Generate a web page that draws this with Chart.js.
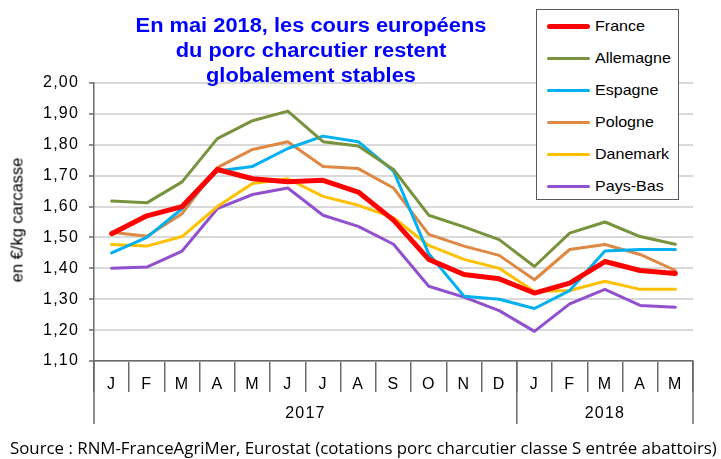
<!DOCTYPE html>
<html lang="fr">
<head>
<meta charset="utf-8">
<script src="https://cdn.jsdelivr.net/npm/chart.js@4.4.1/dist/chart.umd.min.js"></script>
<style>
  html, body { margin: 0; padding: 0; background: #fff; }
  #wrap { position: relative; width: 721px; height: 459px; overflow: hidden;
          font-family: 'Liberation Sans', Arial, sans-serif; color: #000; }
  #chart { position: absolute; left: 0; top: 0; }
  #title { position: absolute; left: 111px; top: 13px; width: 400px; text-align: center;
           color: #0000FF; font-weight: bold; font-size: 19.5px; line-height: 25px;
           transform: scaleX(1.12); transform-origin: center; white-space: nowrap; }
  #ytitle { position: absolute; left: 17px; top: 220px; font-size: 16.5px; white-space: nowrap;
            transform: translate(-50%, -50%) rotate(-90deg); }
  #legend { position: absolute; left: 536px; top: 9px; width: 143px; height: 191px;
            border: 1.5px solid #595959; background: #fff; box-sizing: border-box; }
  .lg-item { position: absolute; left: 0; width: 140px; height: 20px; }
  .lg-line { position: absolute; left: 10px; width: 43px; border-radius: 3px; }
  .lg-text { position: absolute; left: 58px; top: 0; line-height: 20px; font-size: 15px;
             transform: scaleX(1.07); transform-origin: left; white-space: nowrap; }
  #source { position: absolute; left: 10px; top: 438px; line-height: 20px; font-size: 17px;
            font-family: 'Open Sans', 'Noto Sans', sans-serif; white-space: nowrap;
            display: inline-block; transform-origin: left; }
</style>
</head>
<body>
<div id="wrap">
  <canvas id="chart" width="721" height="459"></canvas>
  <div id="title">En mai 2018, les cours européens<br>du porc charcutier restent<br>globalement stables</div>
  <div id="ytitle">en €/kg carcasse</div>
  <div id="legend"></div>
  <div id="source">Source : RNM-FranceAgriMer, Eurostat (cotations porc charcutier classe S entrée abattoirs)</div>
</div>
<script>
'use strict';

/* ─── Data ─────────────────────────────────────────────────── */
const MONTHS     = ['J','F','M','A','M','J','J','A','S','O','N','D','J','F','M','A','M'];
const YEARS      = ['2017', '2018'];
const YEAR_SPANS = [12, 5];
const Y_TICKS    = [1.10, 1.20, 1.30, 1.40, 1.50, 1.60, 1.70, 1.80, 1.90, 2.00];

const FRANCE    = [1.512, 1.570, 1.600, 1.720, 1.690, 1.680, 1.685, 1.647, 1.556, 1.429, 1.380, 1.366, 1.320, 1.352, 1.422, 1.393, 1.383];
const ALLEMAGNE = [1.618, 1.612, 1.680, 1.820, 1.878, 1.909, 1.810, 1.796, 1.720, 1.572, 1.534, 1.493, 1.406, 1.514, 1.550, 1.503, 1.478];
const ESPAGNE   = [1.450, 1.500, 1.593, 1.715, 1.730, 1.788, 1.828, 1.810, 1.715, 1.447, 1.310, 1.300, 1.270, 1.328, 1.456, 1.461, 1.461];
const POLOGNE   = [1.517, 1.504, 1.577, 1.726, 1.785, 1.810, 1.730, 1.723, 1.660, 1.510, 1.472, 1.442, 1.363, 1.461, 1.477, 1.445, 1.393];
const DANEMARK  = [1.477, 1.472, 1.503, 1.600, 1.675, 1.690, 1.633, 1.604, 1.564, 1.474, 1.429, 1.400, 1.325, 1.328, 1.358, 1.332, 1.332];
const PAYS_BAS  = [1.400, 1.404, 1.456, 1.593, 1.639, 1.660, 1.572, 1.536, 1.478, 1.342, 1.307, 1.263, 1.196, 1.285, 1.332, 1.280, 1.274];

const SERIES = [
  { label: 'France',    data: FRANCE,    color: '#FF0000', width: 5 },
  { label: 'Allemagne', data: ALLEMAGNE, color: '#77933C', width: 3 },
  { label: 'Espagne',   data: ESPAGNE,   color: '#00B0F0', width: 3 },
  { label: 'Pologne',   data: POLOGNE,   color: '#DE8843', width: 3 },
  { label: 'Danemark',  data: DANEMARK,  color: '#FFC000', width: 3 },
  { label: 'Pays-Bas',  data: PAYS_BAS,  color: '#9150CD', width: 3 },
];

const AXIS_COLOR = '#6a6a6a';
const GRID_COLOR = '#d9d9d9';
const FONT       = "'Liberation Sans', Arial, sans-serif";

/* ─── Year row under the month labels ─────────────────────── */
const yearRow = {
  id: 'yearRow',
  beforeDraw(chart) { chart.ctx.letterSpacing = '1.2px'; },
  afterDraw(chart) {
    const { ctx, scales: { x } } = chart;
    const half = (x.getPixelForValue(1) - x.getPixelForValue(0)) / 2;
    const top = x.top, bottom = x.top + 63;
    ctx.save();
    ctx.strokeStyle = AXIS_COLOR;
    ctx.lineWidth = 1.5;
    ctx.fillStyle = '#000';
    ctx.font = `16px ${FONT}`;
    ctx.textAlign = 'center';
    ctx.textBaseline = 'middle';
    let start = 0;
    const x0 = x.getPixelForValue(0) - half;
    ctx.beginPath(); ctx.moveTo(x0, top); ctx.lineTo(x0, bottom); ctx.stroke();
    YEARS.forEach((yr, i) => {
      const end = start + YEAR_SPANS[i] - 1;
      const a = x.getPixelForValue(start) - half;
      const b = x.getPixelForValue(end) + half;
      ctx.beginPath(); ctx.moveTo(b, top); ctx.lineTo(b, bottom); ctx.stroke();
      ctx.fillText(yr, (a + b) / 2, 414);
      start += YEAR_SPANS[i];
    });
    ctx.restore();
  }
};

/* ─── Chart ───────────────────────────────────────────────── */
new Chart(document.getElementById('chart'), {
  type: 'line',
  data: {
    labels: MONTHS,
    datasets: SERIES.map(s => ({
      label: s.label,
      data: s.data,
      borderColor: s.color,
      backgroundColor: s.color,
      borderWidth: s.width,
      pointRadius: 0,
      tension: 0,
      borderJoinStyle: 'round',
      borderCapStyle: 'round',
    })),
  },
  options: {
    responsive: false,
    devicePixelRatio: 1,
    animation: false,
    layout: { padding: { left: 0, right: 28, top: 83, bottom: 34 } },
    plugins: { legend: { display: false }, tooltip: { enabled: false } },
    scales: {
      x: {
        offset: true,
        afterFit: s => { s.height = 64; },
        grid: { offset: true, drawOnChartArea: false, tickLength: 31, color: AXIS_COLOR, lineWidth: 1.5 },
        border: { color: AXIS_COLOR, width: 1.5 },
        ticks: { padding: -17.5, color: '#000', font: { size: 16, family: FONT }, maxRotation: 0, autoSkip: false },
      },
      y: {
        min: 1.1,
        max: 2.0,
        afterFit: s => { s.width = 94; },
        afterBuildTicks: s => { s.ticks = Y_TICKS.map(v => ({ value: v })); },
        grid: { color: GRID_COLOR, lineWidth: 2, tickLength: 5, tickColor: AXIS_COLOR, tickWidth: 1.5 },
        border: { color: AXIS_COLOR, width: 1.5 },
        ticks: {
          padding: 10, color: '#000', font: { size: 16, family: FONT },
          callback: v => v.toFixed(2).replace('.', ','),
        },
      },
    },
  },
  plugins: [yearRow],
});

/* ─── HTML legend ─────────────────────────────────────────── */
const legend = document.getElementById('legend');
legend.innerHTML = SERIES.map((s, i) => `
  <div class="lg-item" style="top:${6 + i * 32}px">
    <div class="lg-line" style="top:${10 - s.width / 2}px;height:${s.width}px;background:${s.color}"></div>
    <span class="lg-text">${s.label}</span>
  </div>`).join('');

/* ─── Stretch source line to its width ────────────────────── */
const src = document.getElementById('source');
src.style.transform = `scaleX(${707 / src.scrollWidth})`;
</script>
</body>
</html>
